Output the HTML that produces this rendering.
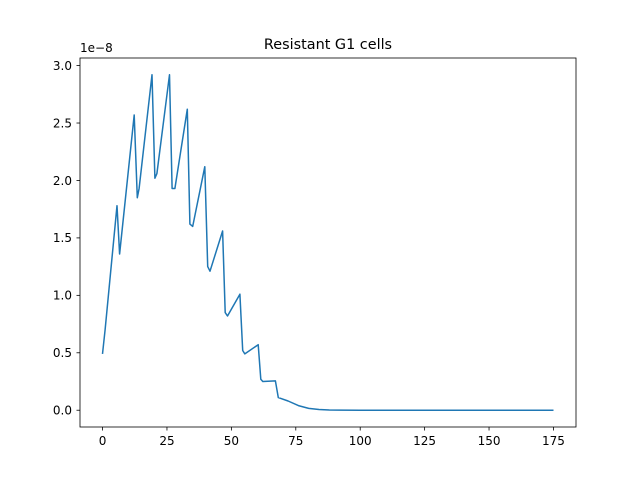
<!DOCTYPE html>
<html><head><meta charset="utf-8"><style>body{margin:0;background:#fff}svg{font-family:"DejaVu Sans","Liberation Sans",sans-serif}</style></head>
<body>
<svg width="640" height="480">
<rect width="640" height="480" fill="#fff"/>
<text x="328" y="49" text-anchor="middle" font-size="14.4">Resistant G1 cells</text>
<text x="80" y="52" font-size="12">1e−8</text>
<g id="xt"></g>
<g id="yt"></g>
<path id="line" fill="none" stroke="#1f77b4" stroke-width="1.5" stroke-linejoin="round"/>
<rect x="80" y="58" width="496" height="369" fill="none" stroke="#000" stroke-width="0.8"/>
</svg>
<script>
const xs=[0,1,5.6,6.6,12.3,13.5,14.2,19.2,20.3,21.1,26.0,27.0,28.1,32.9,33.9,35.0,39.7,40.8,41.7,46.6,47.6,48.5,53.3,54.4,55.2,60.4,61.4,62.2,67.1,68.2,72,76,80,84,88,92,100,175];
const ys=[0.49,0.70,1.78,1.36,2.57,1.85,1.93,2.92,2.02,2.06,2.92,1.93,1.93,2.62,1.62,1.60,2.12,1.25,1.21,1.56,0.85,0.82,1.01,0.52,0.49,0.57,0.27,0.25,0.255,0.11,0.08,0.04,0.016,0.006,0.002,0.001,0,0];
const xTicks=[0,25,50,75,100,125,150,175];
const yTicks=[0,0.5,1.0,1.5,2.0,2.5,3.0];
const sx=v=>80+(v+8.75)*496/192.5;
const sy=v=>427-(v+0.146)*369/3.212;
const NS="http://www.w3.org/2000/svg";
function mk(t,a,p){const e=document.createElementNS(NS,t);for(const k in a)e.setAttribute(k,a[k]);p.appendChild(e);return e;}
const xt=document.getElementById('xt'),yt=document.getElementById('yt');
xTicks.forEach(v=>{const x=sx(v);
const l=mk('line',{x1:x,x2:x,y1:427,y2:430.5,stroke:'#000','stroke-width':0.8},xt);


const t=mk('text',{x:x,y:445,'text-anchor':'middle','font-size':12},xt);t.textContent=v;

});
yTicks.forEach(v=>{const y=sy(v);
const l=mk('line',{x1:76.5,x2:80,y1:y,y2:y,stroke:'#000','stroke-width':0.8},yt);


const t=mk('text',{x:72,y:y+4.3,'text-anchor':'end','font-size':12},yt);t.textContent=v.toFixed(1);

});
document.getElementById('line').setAttribute('d',xs.map((x,i)=>(i?'L':'M')+sx(x).toFixed(1)+','+sy(ys[i]).toFixed(1)).join(''));
</script>
</body></html>
